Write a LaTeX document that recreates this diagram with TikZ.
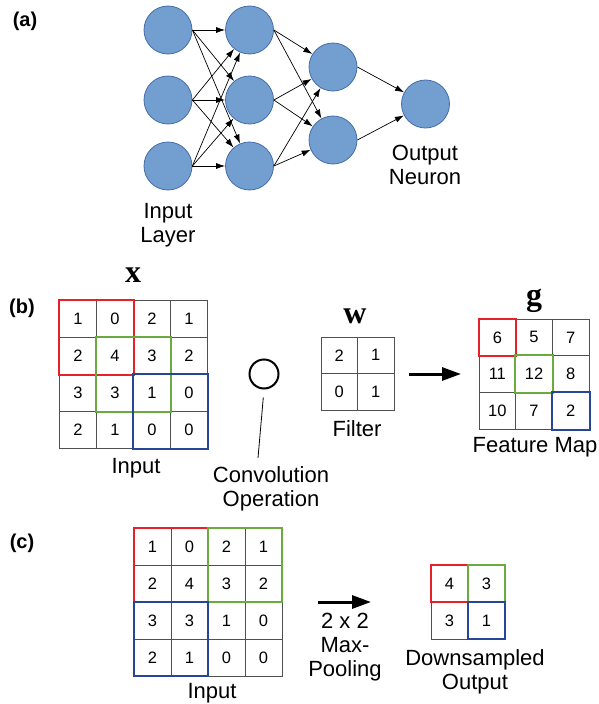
\documentclass[tikz,border=0pt]{standalone}
\usepackage{fontspec}
\setmainfont{Liberation Sans}
\newfontfamily\symserif{Liberation Serif}
\usetikzlibrary{arrows.meta}
\definecolor{neuronfill}{RGB}{114,159,207}
\definecolor{neurondraw}{RGB}{68,108,170}
\definecolor{gridline}{RGB}{80,80,80}
\definecolor{boxred}{RGB}{232,32,42}
\definecolor{boxgreen}{RGB}{106,170,62}
\definecolor{boxblue}{RGB}{40,70,152}
\tikzset{
  neuron/.style={circle, fill=neuronfill, draw=neurondraw, line width=0.8pt, minimum size=48pt, inner sep=0pt},
  synapse/.style={line width=0.7pt, -{Latex[length=9pt,width=6pt]}},
  panel/.style={font=\fontsize{20}{20}\selectfont\bfseries},
  label/.style={font=\fontsize{22}{24}\selectfont, align=center},
  vec/.style={font=\symserif\fontsize{32}{32}\selectfont\bfseries},
  cell/.style={draw=gridline, line width=0.8pt, minimum size=#1, inner sep=0pt, font=\fontsize{16.5}{16.5}\selectfont},
  cell/.default=37pt,
  hl/.style={draw=#1, line width=2pt},
  bigarrow/.style={line width=3pt, -{Triangle[length=19pt,width=13pt]}},
}
\begin{document}
\begin{tikzpicture}[x=1pt, y=-1pt]
\useasboundingbox (0,0) rectangle (598,704);

% ---------- (a) fully connected network ----------
\node[panel] (pa) at (25,21) {(a)};
\foreach \y [count=\i] in {30,100,166} {
  \node[neuron] (in\i) at (168,\y) {};
  \node[neuron] (hid\i) at (249.5,\y) {};
}
\node[neuron] (sec1) at (333,67) {};
\node[neuron] (sec2) at (333,140) {};
\node[neuron] (out) at (425.5,104) {};
\foreach \i in {1,2,3} {
  \foreach \j in {1,2,3} { \draw[synapse] (in\i.east) -- (hid\j); }
  \foreach \j in {1,2} { \draw[synapse] (hid\i.east) -- (sec\j); }
}
\foreach \j in {1,2} { \draw[synapse] (sec\j.east) -- (out); }
\node[label] (inlayer) at (168,225) {Input\\Layer};
\node[label] (outneuron) at (425,165) {Output\\Neuron};

% ---------- (b) convolution ----------
\node[panel] (pb) at (22,308) {(b)};
\node[vec] (xsym) at (133,275.5) {x};
\foreach \v [count=\i from 0] in {1,0,2,1,2,4,3,2,3,3,1,0,2,1,0,0} {
  \pgfmathtruncatemacro\r{\i/4}
  \pgfmathtruncatemacro\c{mod(\i,4)}
  \node[cell] (bx-\r-\c) at ({78+37*\c},{319+37*\r}) {\v};
}
\draw[hl=boxred]   (bx-0-0.north west) rectangle (bx-1-1.south east);
\draw[hl=boxgreen] (bx-1-1.north west) rectangle (bx-2-2.south east);
\draw[hl=boxblue]  (bx-2-2.north west) rectangle (bx-3-3.south east);
\node[label] (binput) at (136,468) {Input};

\node[circle, draw, line width=2pt, minimum size=29pt, inner sep=0pt] (conv) at (264,374) {};
\coordinate (convfoot) at (258,458);
\draw[line width=0.8pt, shorten >=8pt] (convfoot) -- (conv.south);
\node[label] (convlabel) at (271,489) {Convolution\\Operation};

\node[vec] (wsym) at (355,316) {w};
\foreach \v [count=\i from 0] in {2,1,0,1} {
  \pgfmathtruncatemacro\r{\i/2}
  \pgfmathtruncatemacro\c{mod(\i,2)}
  \node[cell=36.5pt] (fw-\r-\c) at ({339.25+36.5*\c},{355.25+36.5*\r}) {\v};
}
\node[label] (filterlabel) at (357,429) {Filter};

\coordinate (convarrowstart) at (409,374);
\coordinate (convarrowend) at (461,374);
\draw[bigarrow] (convarrowstart) -- (convarrowend);

\node[vec] (gsym) at (534,301) {g};
\foreach \v [count=\i from 0] in {6,5,7,11,12,8,10,7,2} {
  \pgfmathtruncatemacro\r{\i/3}
  \pgfmathtruncatemacro\c{mod(\i,3)}
  \node[cell=36.7pt] (fg-\r-\c) at ({497.35+36.7*\c},{337.35+36.7*\r}) {\v};
}
\draw[hl=boxred]   (fg-0-0.north west) rectangle (fg-0-0.south east);
\draw[hl=boxgreen] (fg-1-1.north west) rectangle (fg-1-1.south east);
\draw[hl=boxblue]  (fg-2-2.north west) rectangle (fg-2-2.south east);
\node[label] (fmlabel) at (535,447) {Feature Map};

% ---------- (c) max pooling ----------
\node[panel] (pc) at (22,543) {(c)};
\foreach \v [count=\i from 0] in {1,0,2,1,2,4,3,2,3,3,1,0,2,1,0,0} {
  \pgfmathtruncatemacro\r{\i/4}
  \pgfmathtruncatemacro\c{mod(\i,4)}
  \node[cell] (cx-\r-\c) at ({152.5+37*\c},{546.5+37*\r}) {\v};
}
\draw[hl=boxred]   (cx-0-0.north west) rectangle (cx-1-1.south east);
\draw[hl=boxgreen] (cx-0-2.north west) rectangle (cx-1-3.south east);
\draw[hl=boxblue]  (cx-2-0.north west) rectangle (cx-3-1.south east);
\node[label, anchor=base] (cinput) at (212,698) {Input};

\coordinate (poolstart) at (318,602);
\coordinate (poolend) at (371,602);
\draw[bigarrow] (poolstart) -- (poolend);
\node[label] (poollabel) at (345,647) {2 x 2\\Max-\\Pooling};

\foreach \v [count=\i from 0] in {4,3,3,1} {
  \pgfmathtruncatemacro\r{\i/2}
  \pgfmathtruncatemacro\c{mod(\i,2)}
  \node[cell] (po-\r-\c) at ({449.5+37*\c},{583.5+37*\r}) {\v};
}
\draw[hl=boxred]   (po-0-0.north west) rectangle (po-0-0.south east);
\draw[hl=boxgreen] (po-0-1.north west) rectangle (po-0-1.south east);
\draw[hl=boxblue]  (po-1-1.north west) rectangle (po-1-1.south east);
\node[label] (dslabel) at (475,672) {Downsampled\\Output};
\end{tikzpicture}
\end{document}
